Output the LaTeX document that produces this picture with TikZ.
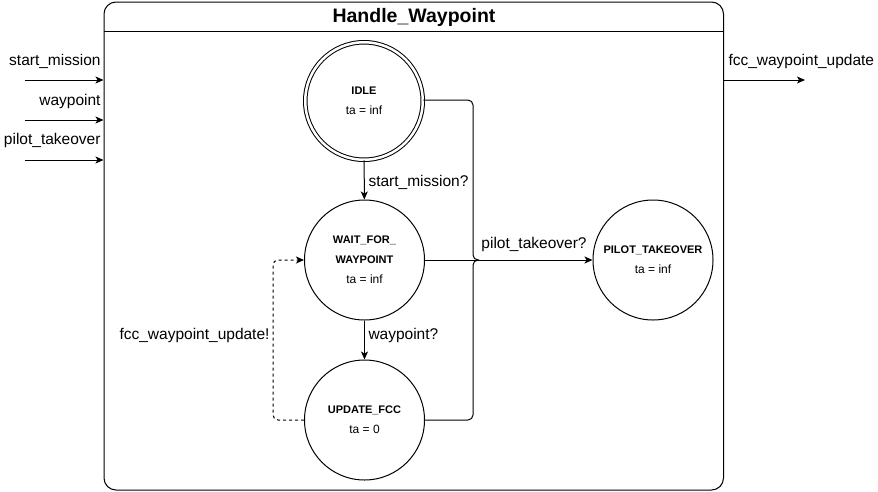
\documentclass[tikz,border=0pt]{standalone}
\usepackage{fontspec}
\setmainfont{Liberation Sans}
\usetikzlibrary{arrows.meta,positioning}
\begin{document}
\begin{tikzpicture}
[x=1pt,y=-1pt,line width=1pt,
state/.style={circle,draw=black,line width=1pt,minimum size=120pt,inner sep=0pt,align=center,font=\fontsize{11}{20}\selectfont},
lbl/.style={inner sep=0pt,font=\fontsize{15.5}{18}\selectfont},
arr/.style={-{Stealth[length=8pt,width=7pt,inset=2pt]}},
dashline/.style={dash pattern=on 3pt off 3pt}]
\useasboundingbox (0,0) rectangle (878,491);

% outer block
\node[draw,rounded corners=12pt,minimum width=619.5pt,minimum height=488pt,inner sep=0pt] (box) at (413.75,246) {};
\node[font=\fontsize{19.5}{22}\selectfont\bfseries] (title) at (414,17) {Handle\_Waypoint};
\coordinate (hl) at (104,31);
\coordinate (hr) at (723.5,31);
\draw [-] (hl) -- (hr);

% ports
\coordinate (in1) at (25,80);
\coordinate (in2) at (25,120);
\coordinate (in3) at (25,160);
\coordinate (out1) at (805,80);
\node[lbl,anchor=east] (lin1) at (101,61) {start\_mission};
\node[lbl,anchor=east] (lin2) at (101,101) {waypoint};
\node[lbl,anchor=east] (lin3) at (101,140) {pilot\_takeover};
\node[lbl,anchor=west] (lout1) at (728,61) {fcc\_waypoint\_update};
\draw [arr] (in1) -- (in1 -| box.west);
\draw [arr] (in2) -- (in2 -| box.west);
\draw [arr] (in3) -- (in3 -| box.west);
\draw [arr] (out1 -| box.east) -- (out1);

% states
\node[state,double,double distance=2.5pt,minimum size=117.5pt] (idle) at (364,101) {\textbf{IDLE}\\\fontsize{12}{20}\selectfont ta = inf};
\node[state] (wait) at (364.5,260) {\textbf{WAIT\_FOR\_}\\\textbf{WAYPOINT}\\\fontsize{12}{20}\selectfont ta = inf};
\node[state] (upd) at (364.5,420) {\textbf{UPDATE\_FCC}\\\fontsize{12}{20}\selectfont ta = 0};
\node[state] (pilot) at (653,260) {\textbf{PILOT\_TAKEOVER}\\\fontsize{12}{20}\selectfont ta = inf};

\coordinate (j1) at (473,100);
\coordinate (j2) at (473,420);
\coordinate (jm) at (473,260);
\coordinate (d1) at (273,420);
\coordinate (d2) at (273,260);

% transitions
\draw [arr] (idle) -- (wait);
\draw [arr] (wait) -- (upd);
\draw [arr] (wait) -- (pilot);
\draw [-,rounded corners=5pt] (idle.east |- j1) -- (j1) -- (jm) -- ++(6,0);
\draw [-,rounded corners=5pt] (upd.east) -- (j2) -- (jm) -- ++(6,0);
\draw [arr,dashline,rounded corners=5pt] (upd.west) -- (d1) -- (d2) -- (wait.west);

\node[lbl,anchor=west] (t1) at (368,182) {start\_mission?};
\node[lbl,anchor=west] (t2) at (368,335) {waypoint?};
\node[lbl] (t3) at (534,244) {pilot\_takeover?};
\node[lbl,anchor=east] (t4) at (270,335) {fcc\_waypoint\_update!};
\end{tikzpicture}
\end{document}
